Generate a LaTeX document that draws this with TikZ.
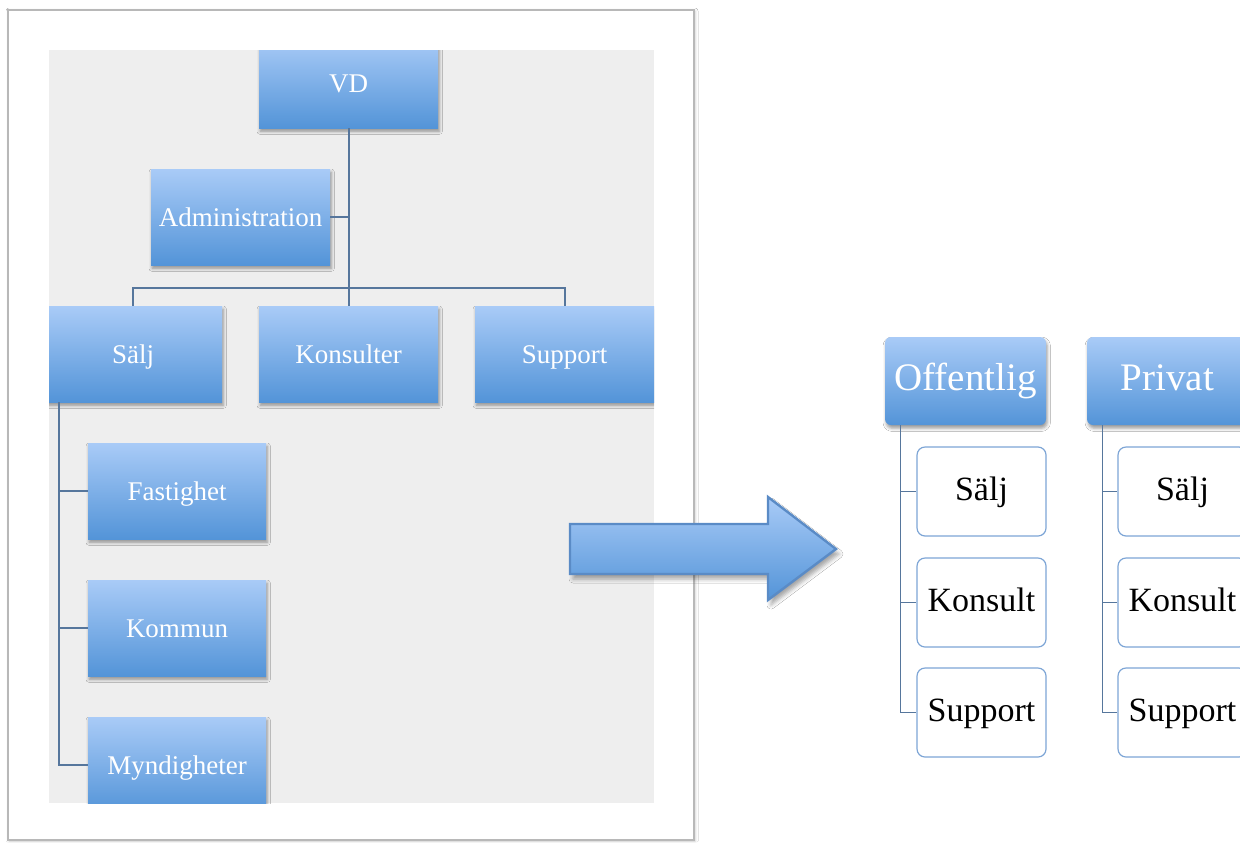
\documentclass[tikz,border=0pt]{standalone}
\usepackage{fontspec}
\setmainfont{Liberation Serif}
\usetikzlibrary{shadows,shadows.blur,calc}
\definecolor{btop}{HTML}{A9CBF7}
\definecolor{bbot}{HTML}{5394D8}
\definecolor{lnc}{HTML}{56769C}
\definecolor{bord}{HTML}{7DA5D6}
\definecolor{panel}{HTML}{EEEEEE}
\definecolor{arrb}{HTML}{5A8BC6}
\tikzset{
  softshadow/.style={blur shadow={shadow xshift=0.6pt, shadow yshift=-1.6pt,
    shadow blur radius=1.6pt, shadow opacity=40}},
  bluebox/.style={draw=none, top color=btop, bottom color=bbot, text=white,
    inner sep=0pt, text height=2.55ex, text depth=0.45ex,
    font=\fontsize{13.5}{15}\selectfont, softshadow},
  headbox/.style={bluebox, rounded corners=3pt, minimum width=80.5pt, minimum height=44pt,
    font=\fontsize{19.5}{22}\selectfont},
  childbox/.style={draw=bord, line width=0.6pt, fill=white, rounded corners=4pt,
    minimum width=64.5pt, minimum height=44.5pt, inner sep=0pt,
    text height=2.5ex, text depth=0.45ex,
    font=\fontsize{17}{19}\selectfont},
  conn/.style={draw=lnc, line width=1pt},
}
\begin{document}
\begin{tikzpicture}[x=0.5pt,y=-0.5pt]
\useasboundingbox (0,0) rectangle (1240,842);
\clip (0,0) rectangle (1240,842);
\fill[white] (0,0) rectangle (1240,842);
% outer frame and panel
\draw[draw=black!28, line width=0.7pt, fill=white,
  blur shadow={shadow xshift=0.5pt, shadow yshift=-0.5pt, shadow blur radius=1.5pt, shadow opacity=20}]
  (8,10) rectangle (694,840);
\fill[panel] (49,50) rectangle (654,803);
% left org chart
\begin{scope}
\clip (49,50) rectangle (654,803);
\node[bluebox, minimum width=89.5pt, minimum height=45pt] (vd) at (348.5,83) {VD};
\node[bluebox, minimum width=89.5pt, minimum height=48pt] (adm) at (240.5,217) {Administration};
\node[bluebox, minimum width=89pt, minimum height=48pt] (salj) at (133,354) {Sälj};
\node[bluebox, minimum width=89.5pt, minimum height=48pt] (kons) at (348.5,354) {Konsulter};
\node[bluebox, minimum width=89.5pt, minimum height=48pt] (supp) at (564.5,354) {Support};
\node[bluebox, minimum width=89pt, minimum height=48pt] (fast) at (177,491) {Fastighet};
\node[bluebox, minimum width=89pt, minimum height=48pt] (komm) at (177,628) {Kommun};
\node[bluebox, minimum width=89pt, minimum height=48pt] (myn) at (177,765) {Myndigheter};
\end{scope}
\draw[conn] (vd.south) -- (kons.north);
\draw[conn] (adm.east) -- (adm.east -| vd.south);
\draw[conn] (salj.north) -- ++(0,-18) -| (supp.north);
\coordinate (st) at ($(salj.south west)+(15,0)$);
\draw[conn] (st) |- (myn.west);
\draw[conn] (st |- fast.west) -- (fast.west);
\draw[conn] (st |- komm.west) -- (komm.west);
% arrow
\draw[draw=arrb, line width=1.2pt, top color=btop, bottom color=bbot,
  blur shadow={shadow xshift=1.5pt, shadow yshift=-2.5pt, shadow blur radius=2pt, shadow opacity=35}]
  (570,524) -- (768,524) -- (768,497) -- (836,549) -- (768,600) -- (768,574) -- (570,574) -- cycle;
% right org charts
\node[headbox] (off) at (965.5,381) {Offentlig};
\node[headbox] (priv) at (1167.5,381) {Privat};
\node[childbox] (os) at (981.5,491.5) {Sälj};
\node[childbox] (ok) at (981.5,602.5) {Konsult};
\node[childbox] (osu) at (981.5,712.5) {Support};
\node[childbox] (ps) at (1182.5,491.5) {Sälj};
\node[childbox] (pk) at (1182.5,602.5) {Konsult};
\node[childbox] (psu) at (1182.5,712.5) {Support};
\coordinate (ot) at ($(off.south west)+(16,0)$);
\coordinate (pt) at ($(priv.south west)+(16,0)$);
\draw[conn, line width=0.8pt] (ot) |- (osu.west);
\draw[conn, line width=0.8pt] (ot |- os.west) -- (os.west);
\draw[conn, line width=0.8pt] (ot |- ok.west) -- (ok.west);
\draw[conn, line width=0.8pt] (pt) |- (psu.west);
\draw[conn, line width=0.8pt] (pt |- ps.west) -- (ps.west);
\draw[conn, line width=0.8pt] (pt |- pk.west) -- (pk.west);
\end{tikzpicture}
\end{document}
